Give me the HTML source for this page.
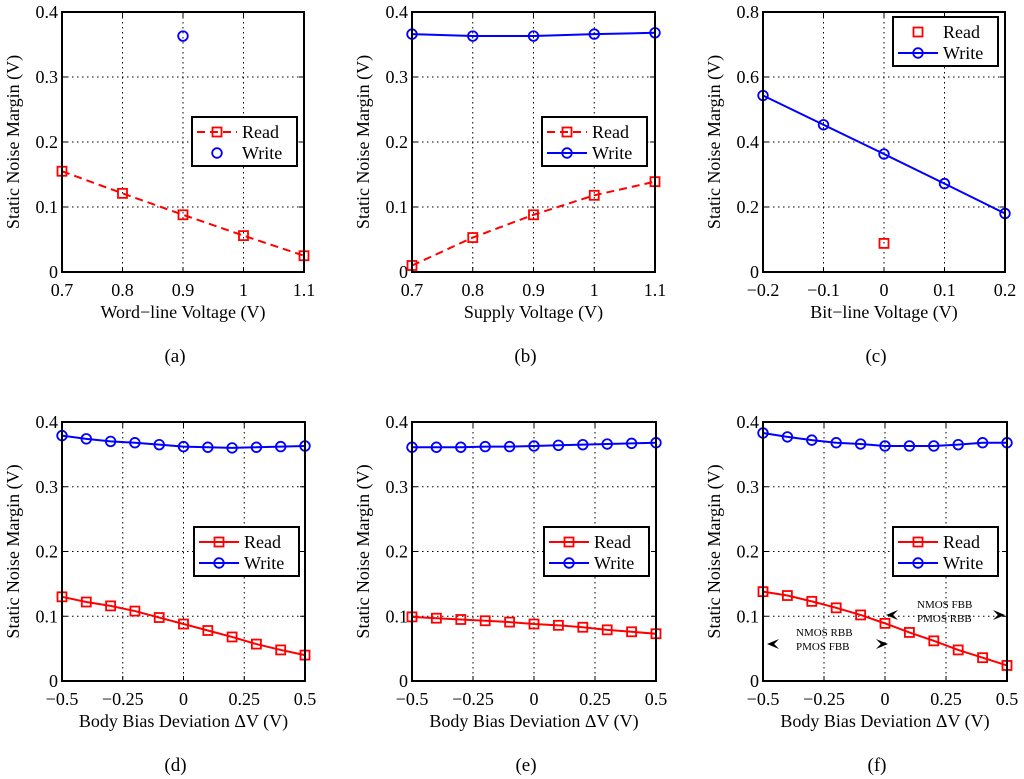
<!DOCTYPE html>
<html><head><meta charset="utf-8"><style>
html,body{margin:0;padding:0;background:#fff;}
svg{display:block;font-family:"Liberation Serif",serif;}
</style></head><body>
<svg id="fig" width="1024" height="779" viewBox="0 0 1024 779" xmlns="http://www.w3.org/2000/svg"></svg>
<script>
// ---- data ----
const xA = [0.7,0.8,0.9,1.0,1.1];
const readA = [0.155,0.121,0.088,0.056,0.025];
const writeAx = [0.9];
const writeA = [0.363];
const xB = [0.7,0.8,0.9,1.0,1.1];
const readB = [0.010,0.053,0.088,0.118,0.139];
const writeB = [0.366,0.363,0.363,0.366,0.368];
const xC = [-0.2,-0.1,0,0.1,0.2];
const writeC = [0.543,0.453,0.363,0.272,0.180];
const readCx = [0];
const readC = [0.088];
const xD = [-0.5,-0.4,-0.3,-0.2,-0.1,0,0.1,0.2,0.3,0.4,0.5];
const readD = [0.130,0.122,0.116,0.108,0.098,0.088,0.078,0.068,0.057,0.048,0.040];
const writeD = [0.379,0.374,0.370,0.368,0.365,0.362,0.361,0.360,0.361,0.362,0.363];
const readE = [0.099,0.097,0.095,0.093,0.091,0.088,0.086,0.083,0.079,0.076,0.073];
const writeE = [0.361,0.361,0.361,0.362,0.362,0.363,0.364,0.365,0.366,0.367,0.368];
const readF = [0.138,0.132,0.123,0.113,0.102,0.089,0.075,0.062,0.048,0.036,0.024];
const writeF = [0.383,0.377,0.372,0.368,0.366,0.363,0.363,0.363,0.365,0.368,0.368];
const ticksV = [0.7,0.8,0.9,1.0,1.1];
const ticksVLabels = ["0.7","0.8","0.9","1","1.1"];
const ticksC = [-0.2,-0.1,0,0.1,0.2];
const ticksCLabels = ["\u22120.2","\u22120.1","0","0.1","0.2"];
const ticksBB = [-0.5,-0.25,0,0.25,0.5];
const ticksBBLabels = ["\u22120.5","\u22120.25","0","0.25","0.5"];
const ticksY4 = [0,0.1,0.2,0.3,0.4];
const ticksY4Labels = ["0","0.1","0.2","0.3","0.4"];
const ticksY8 = [0,0.2,0.4,0.6,0.8];
const ticksY8Labels = ["0","0.2","0.4","0.6","0.8"];

const NS="http://www.w3.org/2000/svg";
const svg=document.getElementById('fig');
function mk(tag,attrs,parent,txt){const e=document.createElementNS(NS,tag);for(const k in attrs)e.setAttribute(k,attrs[k]);if(txt!==undefined)e.textContent=txt;(parent||svg).appendChild(e);return e;}

function panel(p){
  const g=mk('g',{});
  
  
  const L=p.x0,R=p.x1,T=p.y0,B=p.y1;
  const sx=v=>L+(v-p.xmin)/(p.xmax-p.xmin)*(R-L);
  const sy=v=>B-(v-p.ymin)/(p.ymax-p.ymin)*(B-T);
  p.xt.forEach((t,i)=>{const X=sx(t);
    if(i>0&&i<p.xt.length-1){mk('line',{x1:X,x2:X,y1:T,y2:B,stroke:'#000','stroke-width':1,'stroke-dasharray':'1.5,3.5'},g);}
    mk('line',{x1:X,x2:X,y1:B,y2:B-5,stroke:'#000','stroke-width':1},g);
    mk('line',{x1:X,x2:X,y1:T,y2:T+5,stroke:'#000','stroke-width':1},g);
    const tl=mk('text',{x:X,y:B+24,'text-anchor':'middle','font-size':18},g,p.xl[i]);
    
  });
  p.yt.forEach((t,i)=>{const Y=sy(t);
    if(i>0&&i<p.yt.length-1){mk('line',{x1:L,x2:R,y1:Y,y2:Y,stroke:'#000','stroke-width':1,'stroke-dasharray':'1.5,3.5'},g);}
    mk('line',{x1:L,x2:L+5,y1:Y,y2:Y,stroke:'#000','stroke-width':1},g);
    mk('line',{x1:R,x2:R-5,y1:Y,y2:Y,stroke:'#000','stroke-width':1},g);
    const tl=mk('text',{x:L-4,y:Y+6,'text-anchor':'end','font-size':18},g,p.yl[i]);
    
  });
  p.series.forEach(s=>{
    const sg=mk('g',{},g);
    
    
    const col=s.name==='Read'?'#ff0000':'#0000ff';
    if(s.line){
      const pts=s.x.map((v,i)=>sx(v)+','+sy(s.y[i])).join(' ');
      const a={points:pts,fill:'none',stroke:col,'stroke-width':2};
      if(s.dash)a['stroke-dasharray']='8,5';
      mk('polyline',a,sg);
    }
    s.x.forEach((v,i)=>{
      let m;
      if(s.name==='Read')m=mk('rect',{x:sx(v)-4.5,y:sy(s.y[i])-4.5,width:9,height:9,fill:'none',stroke:col,'stroke-width':1.8},sg);
      else m=mk('circle',{cx:sx(v),cy:sy(s.y[i]),r:4.8,fill:'none',stroke:col,'stroke-width':1.8},sg);
      
      
    });
  });
  mk('rect',{x:L,y:T,width:R-L,height:B-T,fill:'none',stroke:'#000','stroke-width':2},g);
  const xt=mk('text',{x:(L+R)/2,y:B+46,'text-anchor':'middle','font-size':18},g,p.xlabel);
  
  const yt=mk('text',{x:0,y:0,'text-anchor':'middle','font-size':18,transform:`translate(${L-43},${(T+B)/2}) rotate(-90)`},g,'Static Noise Margin (V)');
  
  const cap=mk('text',{x:(L+R)/2-8,y:B+90,'text-anchor':'middle','font-size':19},g,'('+p.id+')');
  
  const lg=mk('g',{},g);
  
  const lx=p.leg[0],ly=p.leg[1];
  mk('rect',{x:lx,y:ly,width:105,height:49,fill:'#fff',stroke:'#000','stroke-width':2},lg);
  p.series.forEach((s,i)=>{
    const Y=ly+15+i*21;const col=s.name==='Read'?'#ff0000':'#0000ff';
    if(s.line){const a={x1:lx+5,x2:lx+45,y1:Y,y2:Y,stroke:col,'stroke-width':2};if(s.dash)a['stroke-dasharray']='8,5';mk('line',a,lg);}
    if(s.name==='Read')mk('rect',{x:lx+25-4.5,y:Y-4.5,width:9,height:9,fill:'none',stroke:col,'stroke-width':1.8},lg);
    else mk('circle',{cx:lx+25,cy:Y,r:4.8,fill:'none',stroke:col,'stroke-width':1.8},lg);
    const e=mk('text',{x:lx+50,y:Y+6,'font-size':18},lg,s.name);
    
  });
  return {g,sx,sy};
}
const row1={y0:12,y1:272}, row2={y0:422,y1:681};
const cols=[[62,304],[412,655],[763,1005]];
const Yc=[[62,305],[412,656],[763,1007]];
panel({id:'a',x0:cols[0][0],x1:cols[0][1],...row1,xmin:0.7,xmax:1.1,ymin:0,ymax:0.4,xt:ticksV,xl:ticksVLabels,yt:ticksY4,yl:ticksY4Labels,xlabel:'Word\u2212line Voltage (V)',leg:[192,117],
  series:[{name:'Read',x:xA,y:readA,line:true,dash:true},{name:'Write',x:writeAx,y:writeA,line:false}]});
panel({id:'b',x0:cols[1][0],x1:cols[1][1],...row1,xmin:0.7,xmax:1.1,ymin:0,ymax:0.4,xt:ticksV,xl:ticksVLabels,yt:ticksY4,yl:ticksY4Labels,xlabel:'Supply Voltage (V)',leg:[542,117],
  series:[{name:'Read',x:xB,y:readB,line:true,dash:true},{name:'Write',x:xB,y:writeB,line:true}]});
panel({id:'c',x0:cols[2][0],x1:cols[2][1],...row1,xmin:-0.2,xmax:0.2,ymin:0,ymax:0.8,xt:ticksC,xl:ticksCLabels,yt:ticksY8,yl:ticksY8Labels,xlabel:'Bit\u2212line Voltage (V)',leg:[893,17],
  series:[{name:'Read',x:readCx,y:readC,line:false},{name:'Write',x:xC,y:writeC,line:true}]});
panel({id:'d',x0:Yc[0][0],x1:Yc[0][1],...row2,xmin:-0.5,xmax:0.5,ymin:0,ymax:0.4,xt:ticksBB,xl:ticksBBLabels,yt:ticksY4,yl:ticksY4Labels,xlabel:'Body Bias Deviation \u0394V (V)',leg:[194,527],
  series:[{name:'Read',x:xD,y:readD,line:true},{name:'Write',x:xD,y:writeD,line:true}]});
panel({id:'e',x0:Yc[1][0],x1:Yc[1][1],...row2,xmin:-0.5,xmax:0.5,ymin:0,ymax:0.4,xt:ticksBB,xl:ticksBBLabels,yt:ticksY4,yl:ticksY4Labels,xlabel:'Body Bias Deviation \u0394V (V)',leg:[544,527],
  series:[{name:'Read',x:xD,y:readE,line:true},{name:'Write',x:xD,y:writeE,line:true}]});
const pf=panel({id:'f',x0:Yc[2][0],x1:Yc[2][1],...row2,xmin:-0.5,xmax:0.5,ymin:0,ymax:0.4,xt:ticksBB,xl:ticksBBLabels,yt:ticksY4,yl:ticksY4Labels,xlabel:'Body Bias Deviation \u0394V (V)',leg:[893,527],
  series:[{name:'Read',x:xD,y:readF,line:true},{name:'Write',x:xD,y:writeF,line:true}]});
function arrow(g,x,y,dir){const d=dir*12;mk('path',{d:`M${x},${y} L${x-d},${y-5} L${x-d*0.6},${y} L${x-d},${y+5} Z`,fill:'#000'},g);}
const an=mk('g',{},pf.g);


mk('text',{x:917,y:608,'font-size':11},an,'NMOS FBB');
mk('text',{x:917,y:622,'font-size':11},an,'PMOS RBB');
arrow(an,886,615,-1);arrow(an,1005,615,1);
mk('text',{x:796,y:636,'font-size':11},an,'NMOS RBB');
mk('text',{x:796,y:650,'font-size':11},an,'PMOS FBB');
arrow(an,767,644,-1);arrow(an,888,644,1);
</script>
</body></html>
